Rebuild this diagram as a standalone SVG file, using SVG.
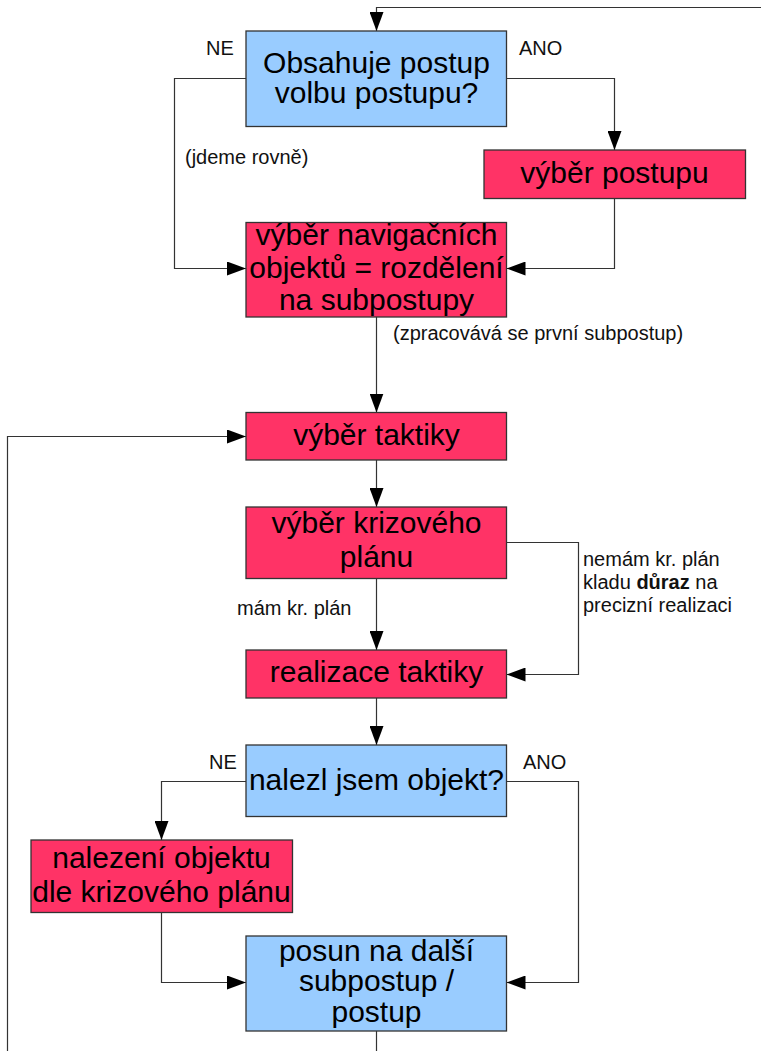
<svg xmlns="http://www.w3.org/2000/svg" width="761" height="1051" viewBox="0 0 761 1051">
<defs>
<marker id="ah" markerUnits="userSpaceOnUse" markerWidth="20" markerHeight="14" refX="19" refY="7" orient="auto">
<path d="M0,0 L19,7 L0,14 z" fill="#000"/>
</marker>
<style>
.blue{fill:#99ccff;stroke:#333;stroke-width:1.3}
.red{fill:#ff3366;stroke:#333;stroke-width:1.3}
.t{font-family:"Liberation Sans",Arial,sans-serif;font-size:30px;fill:#000;text-anchor:middle}
.s{font-family:"Liberation Sans",Arial,sans-serif;font-size:20px;fill:#111}
.c{fill:none;stroke:#333;stroke-width:1.2}
.a{marker-end:url(#ah)}
</style>
</defs>
<g id="connectors">
<polyline class="c a" points="761,7.5 376.5,7.5 376.5,31"/>
<polyline class="c a" points="246,78.5 174.5,78.5 174.5,268.5 246,268.5"/>
<polyline class="c a" points="506.5,78.5 614.5,78.5 614.5,150"/>
<polyline class="c a" points="614.5,198.5 614.5,268.5 506.5,268.5"/>
<polyline class="c a" points="376.5,317 376.5,412.5"/>
<polyline class="c a" points="7.5,1051 7.5,436.5 246,436.5"/>
<polyline class="c a" points="376.5,460 376.5,507"/>
<polyline class="c a" points="376.5,578.5 376.5,650"/>
<polyline class="c a" points="506.5,542.5 578.5,542.5 578.5,674.5 506.5,674.5"/>
<polyline class="c a" points="376.5,698 376.5,745"/>
<polyline class="c a" points="246,781.5 161.5,781.5 161.5,840"/>
<polyline class="c a" points="506.5,781.5 578.5,781.5 578.5,982.5 506.5,982.5"/>
<polyline class="c a" points="161.5,912.5 161.5,982.5 246,982.5"/>
<polyline class="c" points="376.5,1031 376.5,1051"/>
</g>
<g id="labels">
<text class="s" x="206" y="55">NE</text>
<text class="s" x="519" y="55">ANO</text>
<text class="s" x="185" y="164">(jdeme rovně)</text>
<text class="s" x="393" y="340">(zpracovává se první subpostup)</text>
<text class="s" x="237" y="615">mám kr. plán</text>
<text class="s" x="583" y="566">nemám kr. plán</text>
<text class="s" x="583" y="589">kladu <tspan font-weight="bold">důraz</tspan> na</text>
<text class="s" x="583" y="612">precizní realizaci</text>
<text class="s" x="209" y="769">NE</text>
<text class="s" x="523" y="769">ANO</text>
</g>
<g id="n1">
<rect class="blue" x="246" y="31" width="260.5" height="95.5"/>
<text class="t" x="376.5" y="73">Obsahuje postup</text>
<text class="t" x="376.5" y="103">volbu postupu?</text>
</g>
<g id="n2">
<rect class="red" x="484" y="150" width="261.5" height="48.5"/>
<text class="t" x="614.5" y="183">výběr postupu</text>
</g>
<g id="n3">
<rect class="red" x="246" y="222.5" width="260.5" height="94.5"/>
<text class="t" x="376.5" y="245">výběr navigačních</text>
<text class="t" x="376.5" y="277.5">objektů = rozdělení</text>
<text class="t" x="376.5" y="310">na subpostupy</text>
</g>
<g id="n4">
<rect class="red" x="246" y="412.5" width="260.5" height="47.5"/>
<text class="t" x="376.5" y="445">výběr taktiky</text>
</g>
<g id="n5">
<rect class="red" x="246" y="507" width="260.5" height="71.5"/>
<text class="t" x="376.5" y="533">výběr krizového</text>
<text class="t" x="376.5" y="567">plánu</text>
</g>
<g id="n6">
<rect class="red" x="246" y="650" width="260.5" height="48"/>
<text class="t" x="376.5" y="682">realizace taktiky</text>
</g>
<g id="n7">
<rect class="blue" x="246" y="745" width="260.5" height="71.5"/>
<text class="t" x="376.5" y="790">nalezl jsem objekt?</text>
</g>
<g id="n8">
<rect class="red" x="31" y="840" width="261.5" height="72.5"/>
<text class="t" x="161.5" y="868">nalezení objektu</text>
<text class="t" x="161.5" y="902">dle krizového plánu</text>
</g>
<g id="n9">
<rect class="blue" x="246" y="936" width="260.5" height="95"/>
<text class="t" x="376.5" y="961" font-size="29">posun na další</text>
<text class="t" x="376.5" y="991" font-size="29">subpostup /</text>
<text class="t" x="376.5" y="1022" font-size="29">postup</text>
</g>
</svg>
